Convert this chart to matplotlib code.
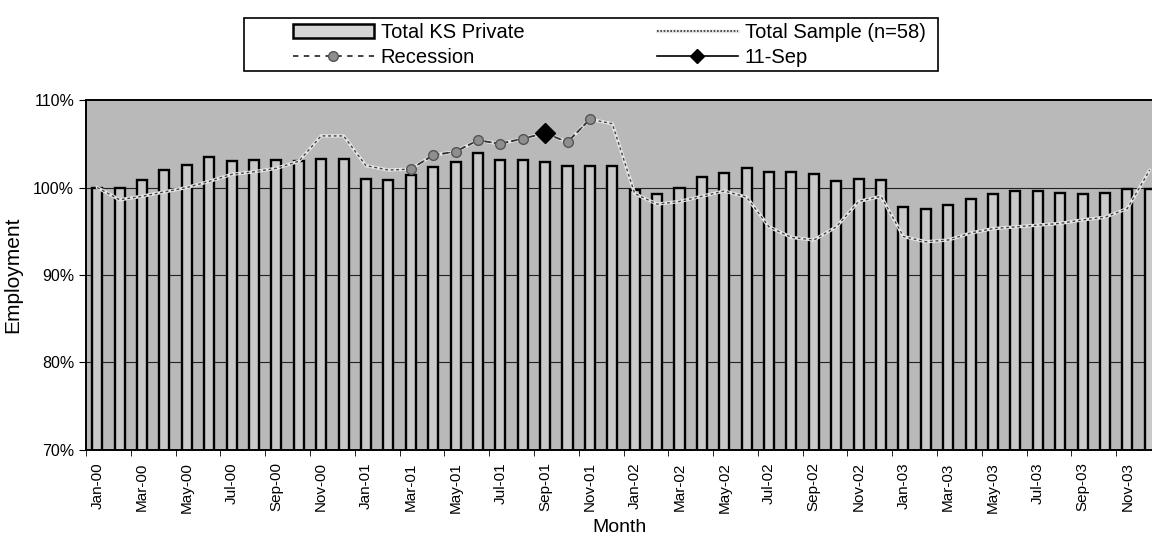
import matplotlib
matplotlib.use("Agg")
import matplotlib.pyplot as plt
from matplotlib.lines import Line2D
from matplotlib.patches import Patch, Rectangle
import numpy as np

plt.rcParams['font.family'] = ['Liberation Sans', 'DejaVu Sans']

# month labels Jan-00 .. Dec-03
mon_names = ["Jan", "Feb", "Mar", "Apr", "May", "Jun",
             "Jul", "Aug", "Sep", "Oct", "Nov", "Dec"]
months = [m + "-" + y for y in ["00", "01", "02", "03"] for m in mon_names]

# Total KS Private (bars), % of Jan-00
ks_private = [100.0, 100.0, 100.9, 102.0, 102.6, 103.5, 103.0, 103.1, 103.2, 103.0, 103.3, 103.3,
              101.0, 100.9, 101.4, 102.4, 102.9, 103.9, 103.2, 103.2, 102.9, 102.5, 102.5, 102.5,
              99.7, 99.3, 100.0, 101.2, 101.7, 102.2, 101.8, 101.8, 101.5, 100.7, 101.0, 100.9,
              97.8, 97.6, 98.0, 98.7, 99.3, 99.6, 99.6, 99.4, 99.3, 99.4, 99.8, 99.8]

# Total Sample (n=58), line
total_sample = [100.0, 98.6, 99.0, 99.5, 100.0, 100.7, 101.5, 101.8, 102.2, 103.0, 105.9, 105.9,
                102.5, 102.0, 102.1, 103.7, 104.1, 105.4, 105.0, 105.6, 106.2, 105.2, 107.8, 107.3,
                99.3, 98.1, 98.4, 99.0, 99.6, 98.9, 95.5, 94.3, 94.0, 95.5, 98.4, 99.0,
                94.4, 93.8, 94.0, 94.8, 95.3, 95.5, 95.7, 95.9, 96.3, 96.6, 97.6, 102.0]

recession_months = ["Mar-01", "Apr-01", "May-01", "Jun-01", "Jul-01",
                    "Aug-01", "Sep-01", "Oct-01", "Nov-01"]
recession_values = [102.1, 103.7, 104.1, 105.4, 105.0, 105.6, 106.2, 105.2, 107.8]

sep11_month = "Sep-01"
sep11_value = 106.2

x = np.arange(len(months))
rec_x = [months.index(m) for m in recession_months]
sep_x = months.index(sep11_month)

W, H = 1152, 535
fig = plt.figure(figsize=(W / 100, H / 100), dpi=100)
ax = fig.add_axes([0.0747, 0.159, 0.9253, 0.654])
ax.set_facecolor('#b9b9b9')

# gridlines
for g in [80, 90, 100]:
    ax.axhline(g, color='#222222', lw=0.8, zorder=1)

ax.bar(x, ks_private, width=0.45, bottom=0, color='#c9c9c9',
       edgecolor='black', linewidth=1.7, zorder=2)

# total sample line: light line with dark dashes on top
ax.plot(x, total_sample, color='#e4e4e4', lw=2.4, zorder=3, solid_capstyle='round')
ax.plot(x, total_sample, color='#444444', lw=1.0, dashes=(2, 2), zorder=3.1)

# recession
ax.plot(rec_x, recession_values, color='#333333', lw=1.3, dashes=(3, 2),
        marker='o', markersize=7, markerfacecolor='#8e8e8e',
        markeredgecolor='#555555', zorder=4)

# 11-Sep
ax.plot([sep_x], [sep11_value], marker='D', markersize=10, color='black',
        linestyle='none', zorder=5)

ax.set_ylim(70, 110)
ax.set_xlim(-0.5, 47.1)
ax.set_yticks([70, 80, 90, 100, 110])
ax.set_yticklabels(["70%", "80%", "90%", "100%", "110%"], fontsize=11.5)
ax.set_xticks(x[::2])
ax.set_xticklabels(months[::2], rotation=90, fontsize=11)
ax.set_xticks(np.arange(-0.5, 47.5, 2), minor=True)
ax.tick_params(axis='x', which='major', length=0, pad=9)
ax.tick_params(axis='x', which='minor', length=4, direction='out')
ax.tick_params(axis='y', length=5, direction='out')

for s in ['left', 'bottom', 'top']:
    ax.spines[s].set_color('black')
    ax.spines[s].set_linewidth(1.4)
ax.spines['right'].set_visible(False)

ax.set_ylabel("Employment", fontsize=15, labelpad=8)
ax.set_xlabel("Month", fontsize=14, labelpad=4)

# legend
h_ks = Patch(facecolor='#d4d4d4', edgecolor='black', linewidth=1.8)
h_rec = Line2D([], [], color='#333333', lw=1.3, dashes=(3, 3), marker='o',
               markersize=7, markerfacecolor='#8e8e8e', markeredgecolor='#555555')
h_tot = (Line2D([], [], color='#e4e4e4', lw=2.4),
         Line2D([], [], color='#333333', lw=1.2, dashes=(1, 1)))
h_sep = Line2D([], [], color='black', lw=1.2, marker='D', markersize=7)
fig.legend([h_ks, h_rec, h_tot, h_sep],
           ["Total KS Private", "Recession", "Total Sample (n=58)", "11-Sep"],
           ncol=2, loc='upper left', bbox_to_anchor=(293 / W, 1 - 23 / H),
           fontsize=14.5, frameon=False, borderpad=0, borderaxespad=0,
           handlelength=4.0, columnspacing=6.6, handletextpad=0.35,
           labelspacing=0.3)
fig.patches.append(Rectangle((244 / W, 1 - 71 / H), (938 - 244) / W, (71 - 18) / H,
                             transform=fig.transFigure, fill=False,
                             edgecolor='black', linewidth=1.2))

fig.savefig("out.png", dpi=100, facecolor='white')
